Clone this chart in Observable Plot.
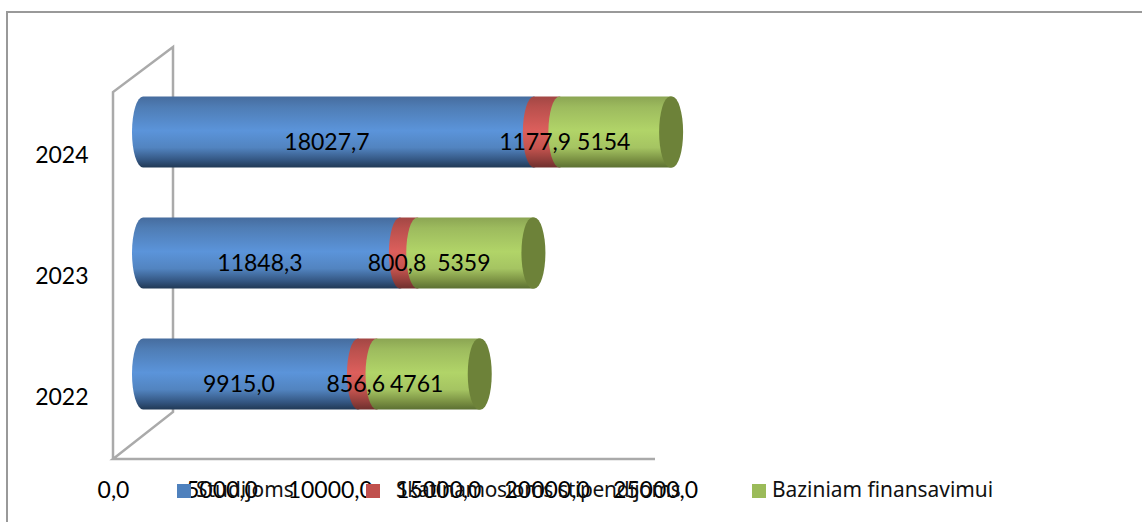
<!DOCTYPE html>
<html>
<head>
<meta charset="utf-8">
<script src="https://cdn.jsdelivr.net/npm/d3@7"></script>
<script src="https://cdn.jsdelivr.net/npm/@observablehq/plot@0.6"></script>
<style>
html,body{margin:0;padding:0;background:#fff;}
#wrap{position:relative;width:1142px;height:522px;overflow:hidden;}
#legend{position:absolute;left:0;top:0;width:1142px;height:522px;font:20.9px "Noto Sans",sans-serif;color:#111;pointer-events:none;}
#legend i{position:absolute;top:484px;width:14px;height:14px;display:block;}
#legend span{position:absolute;top:476px;white-space:nowrap;line-height:26px;}
#legend span.tight{letter-spacing:-0.33px;}
</style>
</head>
<body>
<div id="wrap"></div>
<script>
const years = ["2024", "2023", "2022"];
const studijoms = [18027.7, 11848.3, 9915.0];
const stipendijoms = [1177.9, 800.8, 856.6];
const baziniam = [5154, 5359, 4761];
const xTicks = [0, 5000, 10000, 15000, 20000, 25000];
const seriesNames = ["Studijoms", "Skatinamosioms stipendijoms", "Baziniam finansavimui"];
const legendColors = ["#4f81bd", "#c0504d", "#9bbb59"];

const comma1 = v => v.toFixed(1).replace(".", ",");
const rows = years.map((year, i) => ({
  year,
  a0: 0, a1: studijoms[i],
  b0: studijoms[i], b1: studijoms[i] + stipendijoms[i],
  c0: studijoms[i] + stipendijoms[i], c1: studijoms[i] + stipendijoms[i] + baziniam[i],
  aLabel: comma1(studijoms[i]), bLabel: comma1(stipendijoms[i]), cLabel: String(baziniam[i])
}));

const gradients = {
  gBlue: ["#466c9e", "#4f7db5", "#5b94da", "#5284c0", "#335580", "#213955"],
  gRed: ["#a24744", "#b9504d", "#dc5f5c", "#c5544f", "#8f3d3a", "#6f2f2d"],
  gGreen: ["#8ba553", "#9dbb5e", "#b1d468", "#a5c462", "#788e41", "#5c7032"]
};
const stopAt = [0, 0.15, 0.48, 0.72, 0.9, 1];

function backdrop(index, scales, values, dims) {
  const ns = "http://www.w3.org/2000/svg";
  const g = document.createElementNS(ns, "g");
  const defs = document.createElementNS(ns, "defs");
  for (const [id, cols] of Object.entries(gradients)) {
    const lg = document.createElementNS(ns, "linearGradient");
    lg.setAttribute("id", id);
    lg.setAttribute("x1", 0); lg.setAttribute("x2", 0);
    lg.setAttribute("y1", 0); lg.setAttribute("y2", 1);
    cols.forEach((c, i) => {
      const s = document.createElementNS(ns, "stop");
      s.setAttribute("offset", stopAt[i]);
      s.setAttribute("stop-color", c);
      lg.appendChild(s);
    });
    defs.appendChild(lg);
  }
  g.appendChild(defs);
  const x0 = scales.x(0), x1 = scales.x(25000), back = x0 + 60;
  const floor = 459, frontTop = 92, backTop = 47, backBottom = 412;
  const paths = [
    [`M7,${dims.height} V12 H${dims.width}`, "#999", 2],
    [`M${x0},${floor} V${frontTop} L${back},${backTop} V${backBottom} L${x0},${floor} H${x1}`, "#aaa", 2.5]
  ];
  for (const [d, color, w] of paths) {
    const p = document.createElementNS(ns, "path");
    p.setAttribute("d", d);
    p.setAttribute("fill", "none");
    p.setAttribute("stroke", color);
    p.setAttribute("stroke-width", w);
    g.appendChild(p);
  }
  return g;
}

const shift = 30, rx = 11, ry = 35.5, common = {y: "year", dx: shift, rx, ry};
const labelOpts = {y: "year", dx: 18, dy: 10, fontSize: 23, fontFamily: "Lato", fill: "#000"};

const chart = Plot.plot({
  width: 1142,
  height: 522,
  marginLeft: 113,
  marginRight: 487,
  marginTop: 71.5,
  marginBottom: 87.5,
  style: {background: "#fff", overflow: "hidden"},
  x: {domain: [0, 25000]},
  y: {type: "band", domain: years, paddingInner: 0.413, paddingOuter: 0.2065, round: false},
  marks: [
    backdrop,
    Plot.axisX({ticks: xTicks, tickSize: 0, tickPadding: 47, tickFormat: comma1, fontSize: 23, fontFamily: "Lato", label: null, anchor: "bottom", fill: "#000"}),
    Plot.axisY({tickSize: 0, tickPadding: 25, fontSize: 23, fontFamily: "Lato", label: null, dy: 23, anchor: "left", fill: "#000"}),
    Plot.barX(rows, {...common, x1: "a0", x2: "a1", fill: "url(#gBlue)", insetLeft: -rx, insetRight: -rx}),
    Plot.barX(rows, {...common, x1: "b0", x2: "b1", fill: "url(#gRed)", insetLeft: -rx, insetRight: -rx}),
    Plot.barX(rows, {...common, x1: "c0", x2: "c1", fill: "url(#gGreen)", insetLeft: -rx, insetRight: -rx}),
    Plot.barX(rows, {...common, x1: "c1", x2: "c1", fill: "#6d8239", insetLeft: -rx - 1, insetRight: -rx - 1}),
    Plot.text(rows, {...labelOpts, x: d => (d.a0 + d.a1) / 2, text: "aLabel"}),
    Plot.text(rows, {...labelOpts, x: d => (d.b0 + d.b1) / 2, text: "bLabel"}),
    Plot.text(rows, {...labelOpts, x: d => (d.c0 + d.c1) / 2, text: "cLabel"})
  ]
});
const wrap = document.getElementById("wrap");
wrap.appendChild(chart);

const legend = document.createElement("div");
legend.id = "legend";
const swatchX = [177, 366, 752], textX = [196, 396, 772];
seriesNames.forEach((name, i) => {
  const sw = document.createElement("i");
  sw.style.left = swatchX[i] + "px";
  sw.style.background = legendColors[i];
  const t = document.createElement("span");
  t.style.left = textX[i] + "px";
  if (i === 1) t.className = "tight";
  t.textContent = name;
  legend.append(sw, t);
});
wrap.appendChild(legend);
</script>
</body>
</html>
